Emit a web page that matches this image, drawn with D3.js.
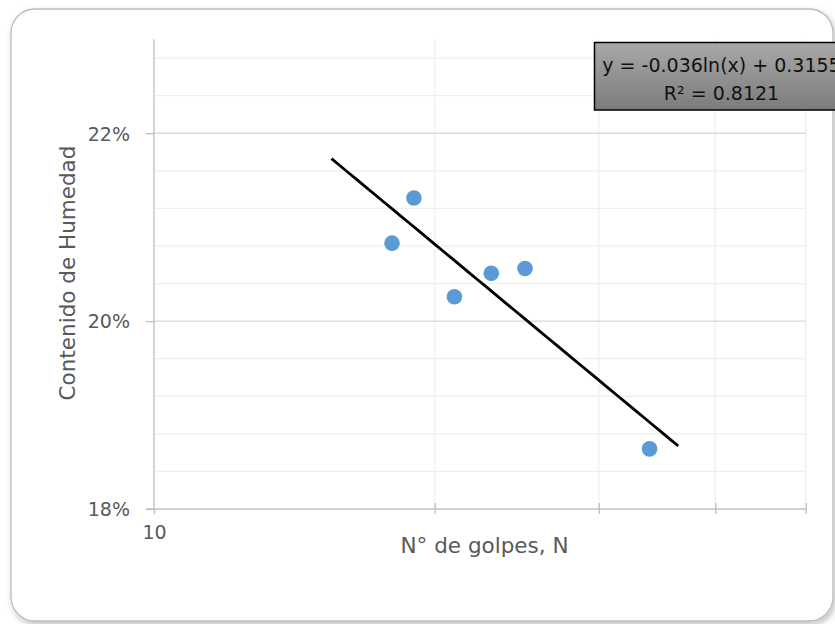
<!DOCTYPE html>
<html>
<head>
<meta charset="utf-8">
<script src="https://cdn.jsdelivr.net/npm/d3@7"></script>
<style>
  html, body { margin: 0; padding: 0; background: #fff; }
  svg { display: block; }
</style>
</head>
<body>
<div id="chart"></div>
<script>
(function () {
  // data
  const golpes = [18, 19, 21, 23, 25, 34];
  const humedad = [0.2083, 0.2131, 0.2026, 0.2051, 0.2056, 0.1864];
  const xTicks = [10, 20, 30, 40, 50];
  const xTickLabels = ["10"];
  const yMajor = [0.18, 0.20, 0.22];
  const yMinor = [0.184, 0.188, 0.192, 0.196, 0.204, 0.208, 0.212, 0.216, 0.224, 0.228];
  const trendRange = [15.5, 36.5]; // forecast 2.5 back and forward
  const eqLines = ["y = -0.036ln(x) + 0.3155", "R\u00b2 = 0.8121"];

  const W = 835, H = 624;
  const font = "'DejaVu Sans', sans-serif";

  const svg = d3.select("#chart")
    .append("svg")
    .attr("width", W)
    .attr("height", H);

  const defs = svg.append("defs");
  const shadow = defs.append("filter").attr("id", "shadow")
    .attr("x", "-5%").attr("y", "-5%").attr("width", "110%").attr("height", "110%");
  shadow.append("feDropShadow")
    .attr("dx", 2).attr("dy", 3).attr("stdDeviation", 3)
    .attr("flood-color", "#000").attr("flood-opacity", 0.25);

  const grad = defs.append("linearGradient").attr("id", "boxGrad")
    .attr("x1", 0).attr("y1", 0).attr("x2", 0).attr("y2", 1);
  grad.append("stop").attr("offset", "0%").attr("stop-color", "#a9a9a9");
  grad.append("stop").attr("offset", "100%").attr("stop-color", "#7b7b7b");

  // chart frame
  svg.append("rect")
    .attr("x", 11).attr("y", 9)
    .attr("width", 822).attr("height", 612)
    .attr("rx", 24).attr("ry", 24)
    .attr("fill", "#fff")
    .attr("stroke", "#bcbcbc")
    .attr("stroke-width", 1.3)
    .attr("filter", "url(#shadow)");

  const x = d3.scaleLog().domain([10, 50]).range([154, 805.7]);
  const y = d3.scaleLinear().domain([0.18, 0.23]).range([509, 39.3]);

  // minor horizontal gridlines
  svg.append("g").selectAll("line")
    .data(yMinor)
    .join("line")
    .attr("x1", x(10)).attr("x2", x(50))
    .attr("y1", d => y(d)).attr("y2", d => y(d))
    .attr("stroke", "#efefef").attr("stroke-width", 1.3);

  // vertical gridlines
  svg.append("g").selectAll("line")
    .data(xTicks.slice(1))
    .join("line")
    .attr("x1", d => x(d)).attr("x2", d => x(d))
    .attr("y1", y(0.23)).attr("y2", y(0.18))
    .attr("stroke", "#efefef").attr("stroke-width", 1.3);

  // major horizontal gridlines
  svg.append("g").selectAll("line")
    .data(yMajor.slice(1))
    .join("line")
    .attr("x1", x(10)).attr("x2", x(50))
    .attr("y1", d => y(d)).attr("y2", d => y(d))
    .attr("stroke", "#d9d9d9").attr("stroke-width", 1.3);

  // y axis
  const yAxis = d3.axisLeft(y)
    .tickValues(yMajor)
    .tickSize(8)
    .tickPadding(16)
    .tickFormat(d3.format(".0%"));
  const gy = svg.append("g")
    .attr("transform", `translate(${x(10)},0)`)
    .call(yAxis);
  gy.select(".domain").attr("stroke", "#bfbfbf").attr("stroke-width", 1.3)
    .attr("d", `M-8,${y(0.18)}H0V${y(0.23)}`);
  gy.selectAll(".tick line").attr("stroke", "#bfbfbf").attr("stroke-width", 1.3);
  gy.selectAll(".tick text")
    .attr("fill", "#595959")
    .attr("font-family", font)
    .attr("font-size", 19)
    .attr("dy", "0.36em");

  // x axis
  const xAxis = d3.axisBottom(x)
    .tickValues(xTicks)
    .tickSize(5)
    .tickPadding(12)
    .tickFormat(d => xTickLabels.includes(String(d)) ? String(d) : "");
  const gx = svg.append("g")
    .attr("transform", `translate(0,${y(0.18)})`)
    .call(xAxis);
  gx.select(".domain").attr("stroke", "#bfbfbf").attr("stroke-width", 1.3)
    .attr("d", `M${x(10)},0H${x(50)}`);
  gx.selectAll(".tick line").attr("stroke", "#bfbfbf").attr("stroke-width", 1.3)
    .attr("y1", d => d === 10 ? 0 : -6);
  gx.selectAll(".tick text")
    .attr("fill", "#595959")
    .attr("font-family", font)
    .attr("font-size", 19);

  // axis titles
  svg.append("text")
    .attr("x", 484.5).attr("y", 553)
    .attr("text-anchor", "middle")
    .attr("fill", "#595959")
    .attr("font-family", font)
    .attr("font-size", 21.5)
    .text("N\u00b0 de golpes, N");

  svg.append("text")
    .attr("transform", `translate(75,273) rotate(-90)`)
    .attr("text-anchor", "middle")
    .attr("fill", "#595959")
    .attr("font-family", font)
    .attr("font-size", 21.5)
    .text("Contenido de Humedad");

  // logarithmic trendline, least squares on ln(x)
  const lx = golpes.map(Math.log);
  const mx = d3.mean(lx), my = d3.mean(humedad);
  const b = d3.sum(lx, (v, i) => (v - mx) * (humedad[i] - my)) / d3.sum(lx, v => (v - mx) ** 2);
  const a = my - b * mx;
  const trend = d3.range(0, 41).map(i => {
    const xv = trendRange[0] * Math.pow(trendRange[1] / trendRange[0], i / 40);
    return [xv, a + b * Math.log(xv)];
  });
  svg.append("path")
    .datum(trend)
    .attr("fill", "none")
    .attr("stroke", "#000")
    .attr("stroke-width", 2.8)
    .attr("d", d3.line().x(d => x(d[0])).y(d => y(d[1])));

  // points
  svg.append("g").selectAll("circle")
    .data(golpes)
    .join("circle")
    .attr("cx", d => x(d))
    .attr("cy", (d, i) => y(humedad[i]))
    .attr("r", 7.8)
    .attr("fill", "#5b9bd5");

  // equation label
  const box = svg.append("g").attr("transform", "translate(594.5,42.5)");
  box.append("rect")
    .attr("width", 254).attr("height", 67.5)
    .attr("fill", "url(#boxGrad)")
    .attr("stroke", "#000")
    .attr("stroke-width", 1.5);
  box.selectAll("text")
    .data(eqLines)
    .join("text")
    .attr("x", 127)
    .attr("y", (d, i) => 29.5 + i * 27.5)
    .attr("text-anchor", "middle")
    .attr("fill", "#111")
    .attr("font-family", font)
    .attr("font-size", 19)
    .text(d => d);
})();
</script>
</body>
</html>
